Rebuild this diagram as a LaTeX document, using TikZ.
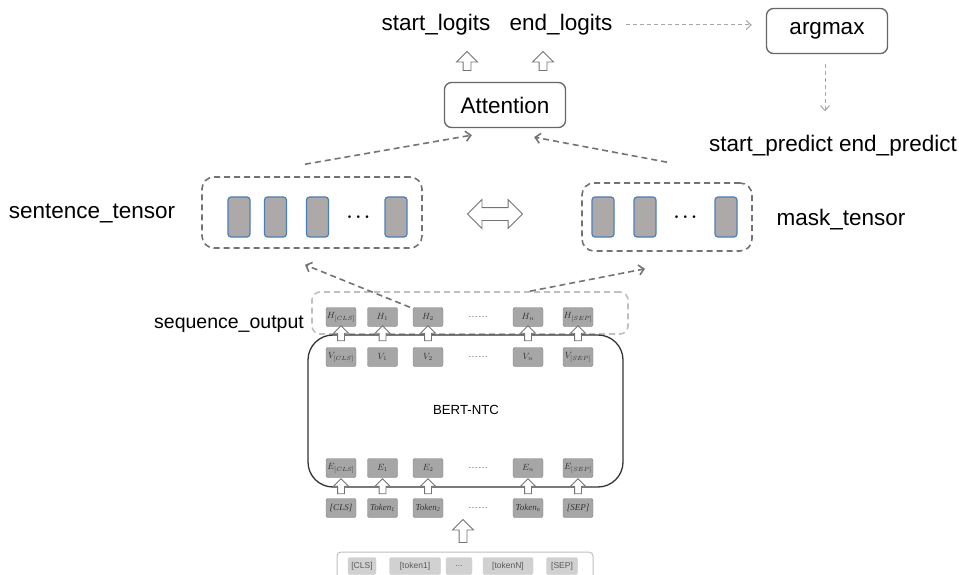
\documentclass[tikz,border=0pt]{standalone}
\usepackage{amsmath}
\usepackage{fontspec}
\setmainfont{Liberation Sans}
\newfontfamily\tokfont{Liberation Serif}
\usetikzlibrary{positioning,fit,shapes.arrows,arrows.meta,calc}

\definecolor{vecfill}{HTML}{ADA9A8}
\definecolor{vecline}{HTML}{4A7EBB}
\definecolor{tokfill}{HTML}{A6A6A6}
\definecolor{tokline}{HTML}{7F7F7F}

\tikzset{
  lbl/.style={font=\fontsize{22.5}{24}\selectfont, inner sep=0},
  rbox/.style={draw=black!60, line width=1.3pt, rounded corners=7pt,
    minimum width=121, minimum height=45, font=\fontsize{22.5}{24}\selectfont},
  dbox/.style={draw=black!55, dashed, dash pattern=on 6pt off 4pt,
    line width=1.6pt, rounded corners=12pt},
  vec/.style={draw=vecline, fill=vecfill, line width=1.2pt, rounded corners=3pt,
    minimum width=22, minimum height=40, inner sep=0},
  tok/.style={draw=tokline, fill=tokfill, rounded corners=2pt, minimum width=30,
    minimum height=19, inner sep=0, font=\fontsize{9}{10}\selectfont, text=black!80},
  itm/.style={draw=black!20, fill=black!18, rounded corners=2pt, minimum height=17,
    inner sep=0, font=\fontsize{8.5}{9}\selectfont, text=black!65},
  uparr/.style={single arrow, draw=black!55, fill=white, line width=0.9pt,
    shape border rotate=90, inner sep=3.5pt, single arrow head extend=6.5pt,
    minimum height=19},
  smarr/.style={uparr, inner sep=3pt, single arrow head extend=4pt, minimum height=15},
  darr/.style={draw=black!55, line width=1.6pt, dash pattern=on 6pt off 4pt,
    -{Straight Barb[length=5pt,width=10pt]}},
  lgarr/.style={draw=black!35, line width=1pt, dash pattern=on 4pt off 3pt,
    -{Straight Barb[length=5pt,width=9pt]}}
}
\newcommand{\tk}[2]{{\tokfont\itshape #1}\textsubscript{\tokfont\itshape #2}}

\begin{document}
\begin{tikzpicture}[x=1pt,y=-1pt]
  \useasboundingbox (0,0) rectangle (959,575);

  % output part
  \node[lbl] (slog) at (436,25) {start\_logits};
  \node[lbl] (elog) at (561,25) {end\_logits};
  \node[rbox] (argmax) at (827,31) {argmax};
  \node[lbl] (pred) at (833,146) {start\_predict end\_predict};
  \draw[lgarr] ([xshift=14]elog.east) -- ([xshift=-14]argmax.west |- elog.east);
  \draw[lgarr] ([shift={(-2,10)}]argmax.south) -- ([shift={(-8,-24)}]pred.north);

  \node[rbox] (att) at (505,105) {Attention};
  \node[uparr] (up1) at (467,63) {};
  \node[uparr] (up2) at (543,63) {};

  % tensors
  \node[lbl] (sentlbl) at (92,213) {sentence\_tensor};
  \node[dbox, minimum width=220, minimum height=71] (sent) at (312,212.5) {};
  \foreach \x [count=\i] in {239,275.5,317.5,396}
    \node[vec] (s\i) at (\x,217) {};
  \node[font=\fontsize{16}{16}\selectfont] (sdots) at (360,217) {$\boldsymbol{\cdots}$};

  \node[lbl] (masklbl) at (841,220) {mask\_tensor};
  \node[dbox, minimum width=170, minimum height=68] (mask) at (667,217) {};
  \foreach \x [count=\i] in {603,645,726}
    \node[vec] (m\i) at (\x,217) {};
  \node[font=\fontsize{16}{16}\selectfont] (mdots) at (687,217) {$\boldsymbol{\cdots}$};

  \node[double arrow, draw=black!55, fill=white, line width=0.9pt, inner sep=6pt,
    minimum height=55, double arrow head extend=8pt] (dbl) at (495,214) {};

  \draw[darr] ([shift={(-7,-12)}]sent.north) -- ([shift={(28,7)}]att.south west);
  \draw[darr] ([yshift=20]mask.north) -- ([shift={(-32,9)}]att.south east);

  % BERT
  \node[font=\fontsize{19.5}{21}\selectfont, inner sep=0] (seqlbl) at (229,324) {sequence\_output};
  \node[dbox, draw=black!25, minimum width=316, minimum height=42, rounded corners=8pt] (seq) at (470,313) {};
  \node[draw=black!80, line width=1.3pt, rounded corners=25pt, minimum width=315,
    minimum height=152] (bert) at (465.5,411) {};
  \node[font=\fontsize{13.2}{15}\selectfont] (bertlbl) at (466,410) {BERT-NTC};

  \foreach \x/\s [count=\i] in {341/{[CLS]},382.5/1,428/2,528/n,578/{[SEP]}} {
    \node[tok] (h\i) at (\x,317) {$H_{\s}$};
    \node[tok] (v\i) at (\x,357) {$V_{\s}$};
    \node[tok] (e\i) at (\x,468) {$E_{\s}$};
    \node[smarr] at (\x,335) {};
    \node[smarr] at (\x,488) {};
  }
  \foreach \y in {317,357,468,508}
    \node[font=\fontsize{10}{10}\selectfont, text=black!60] at (478,\y) {\dots\dots};
  \node[tok] (t1) at (341,508) {\tokfont\itshape [CLS]};
  \node[tok] (t2) at (382.5,508) {\tk{Token}{1}};
  \node[tok] (t3) at (428,508) {\tk{Token}{2}};
  \node[tok] (t4) at (528,508) {\tk{Token}{n}};
  \node[tok] (t5) at (578,508) {\tokfont\itshape [SEP]};

  \draw[darr] ([xshift=-18]h3.north) -- ([shift={(-7,16)}]sent.south);
  \draw[darr] ([xshift=60]seq.north) -- ([shift={(-22,17)}]mask.south);

  % input
  \node[uparr, minimum height=23] (upin) at (463,533) {};
  \node[draw=black!25, line width=1pt, rounded corners=4pt, minimum width=256,
    minimum height=40] (inbox) at (465,572) {};
  \node[itm, minimum width=28] (i1) at (362,566) {[CLS]};
  \node[itm, minimum width=51] (i2) at (415,566) {[token1]};
  \node[itm, minimum width=26] (i3) at (459,566) {...};
  \node[itm, minimum width=50] (i4) at (508,566) {[tokenN]};
  \node[itm, minimum width=31] (i5) at (562,566) {[SEP]};
\end{tikzpicture}
\end{document}
